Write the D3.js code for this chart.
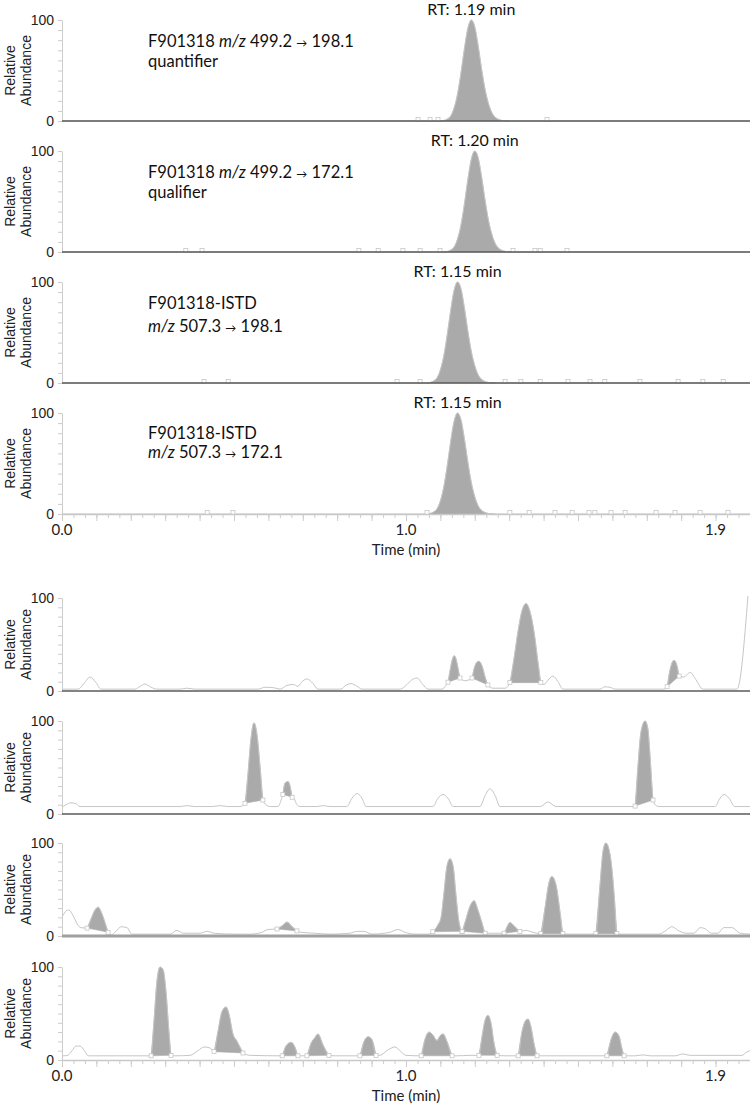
<!DOCTYPE html>
<html>
<head>
<meta charset="utf-8">
<script src="https://cdn.jsdelivr.net/npm/d3@7"></script>
<style>
  body { margin: 0; background: #fff; }
  svg { display: block; }
</style>
</head>
<body>
<svg id="chart" width="750" height="1105"></svg>
<script>
// ---- data (time in min, relative abundance in %) ----
const xDomain = [0, 2.0];
const xTickLabels = [0.0, 1.0, 1.9];
const yTickLabels = [0, 100];
const rtTimes = [1.19, 1.20, 1.15, 1.15];
const rtText = ["RT: 1.19 min", "RT: 1.20 min", "RT: 1.15 min", "RT: 1.15 min"];

// title lines: [text, style] 0 = normal, 1 = italic, 2 = small arrow
const title1 = [[["F901318 ", 0], ["m/z", 1], [" 499.2 ", 0], ["\u2192", 2], [" 198.1", 0]], [["quantifier", 0]]];
const title2 = [[["F901318 ", 0], ["m/z", 1], [" 499.2 ", 0], ["\u2192", 2], [" 172.1", 0]], [["qualifier", 0]]];
const title3 = [[["F901318-ISTD", 0]], [["m/z", 1], [" 507.3 ", 0], ["\u2192", 2], [" 198.1", 0]]];
const title4 = [[["F901318-ISTD", 0]], [["m/z", 1], [" 507.3 ", 0], ["\u2192", 2], [" 172.1", 0]]];

const trace1 = [[0,0],[1.10,0],[1.11,0.5],[1.12,2],[1.13,5],[1.14,13],[1.15,27],[1.16,48],[1.17,72],[1.18,92],[1.19,100],[1.20,93],[1.21,74],[1.22,51],[1.23,31],[1.24,17],[1.25,8],[1.26,3.5],[1.27,1.5],[1.28,0.5],[1.30,0],[2.0,0]];
const trace2 = [[0,0],[1.11,0],[1.12,0.5],[1.13,2],[1.14,5],[1.15,13],[1.16,27],[1.17,48],[1.18,72],[1.19,92],[1.20,100],[1.21,93],[1.22,74],[1.23,51],[1.24,31],[1.25,17],[1.26,8],[1.27,3.5],[1.28,1.5],[1.29,0.5],[1.31,0],[2.0,0]];
const trace3 = [[0,0],[1.06,0],[1.07,0.5],[1.08,2],[1.09,5],[1.10,13],[1.11,27],[1.12,48],[1.13,72],[1.14,92],[1.15,100],[1.16,93],[1.17,74],[1.18,51],[1.19,31],[1.20,17],[1.21,8],[1.22,3.5],[1.23,1.5],[1.24,0.5],[1.26,0],[2.0,0]];
const trace4 = [[0,0],[1.06,0],[1.07,0.5],[1.08,2],[1.09,5],[1.10,13],[1.11,27],[1.12,48],[1.13,72],[1.14,92],[1.15,100],[1.16,93],[1.17,74],[1.18,51],[1.19,31],[1.20,17],[1.21,8],[1.22,3.5],[1.23,1.5],[1.24,0.5],[1.26,0],[2.0,0]];
const fills1 = [[1.10, 1.30]];
const fills2 = [[1.11, 1.31]];
const fills3 = [[1.06, 1.26]];
const fills4 = [[1.06, 1.26]];
const marks1 = [1.035, 1.070, 1.093, 1.410];
const marks2 = [0.360, 0.407, 0.863, 0.919, 0.991, 1.041, 1.099, 1.311, 1.375, 1.390, 1.468];
const marks3 = [0.413, 0.483, 0.974, 1.041, 1.288, 1.334, 1.390, 1.471, 1.535, 1.578, 1.680, 1.791, 1.863, 1.922];
const marks4 = [0.422, 0.497, 1.061, 1.302, 1.358, 1.433, 1.483, 1.532, 1.549, 1.596, 1.637, 1.727, 1.782, 1.855, 1.936];

const trace5 = [[0.003,2],[0.047,2],[0.064,8],[0.081,15],[0.099,9],[0.113,2],[0.212,2],[0.227,5],[0.241,7.5],[0.259,4],[0.276,2],[0.343,2],[0.363,3],[0.387,2],[0.570,2],[0.590,4],[0.616,3.5],[0.634,2],[0.654,6],[0.672,7],[0.686,5],[0.695,9],[0.712,13],[0.730,8],[0.744,2],[0.811,2],[0.826,6.5],[0.840,8],[0.858,5],[0.872,2],[0.983,2],[1.003,7],[1.017,12],[1.032,14],[1.049,7],[1.064,2],[1.105,2],[1.116,6],[1.122,9.5],[1.128,22],[1.134,33],[1.140,38],[1.145,35],[1.151,25],[1.157,14],[1.172,11],[1.183,12],[1.192,14],[1.198,24],[1.206,31],[1.212,32],[1.221,27],[1.230,15],[1.238,6.5],[1.253,3],[1.288,3],[1.302,9],[1.314,35],[1.326,65],[1.337,86],[1.349,94],[1.360,86],[1.372,64],[1.384,30],[1.392,9],[1.401,7],[1.416,13],[1.427,16],[1.442,10],[1.456,2],[1.564,2],[1.578,4.5],[1.593,4],[1.608,2],[1.750,2],[1.759,4.6],[1.767,22],[1.779,33],[1.788,27],[1.794,16],[1.808,15],[1.826,20],[1.843,12],[1.863,2],[1.962,2],[1.994,102]];
const fills5 = [[1.122, 1.157], [1.192, 1.238], [1.302, 1.392], [1.759, 1.794]];

const trace6 = [[0.003,8],[0.012,10],[0.026,12],[0.041,11],[0.052,8],[0.343,8],[0.363,9],[0.387,8],[0.436,8],[0.459,9],[0.483,8],[0.517,8],[0.532,11.5],[0.541,45],[0.549,80],[0.558,98],[0.567,85],[0.576,50],[0.584,15],[0.593,10],[0.605,8],[0.628,8],[0.637,15],[0.642,21],[0.648,33],[0.657,35],[0.663,30],[0.669,18],[0.674,17],[0.683,10],[0.692,8],[0.741,8],[0.759,9],[0.779,8],[0.828,8],[0.843,17],[0.858,22],[0.872,17],[0.884,8],[1.078,8],[1.093,17],[1.108,21],[1.122,17],[1.137,8],[1.215,8],[1.230,20],[1.244,27],[1.259,20],[1.273,8],[1.390,8],[1.413,13],[1.436,8],[1.663,8],[1.666,8.5],[1.674,50],[1.683,88],[1.695,100],[1.703,92],[1.709,65],[1.715,30],[1.718,15],[1.727,9],[1.735,8],[1.898,8],[1.913,17],[1.924,21],[1.939,17],[1.956,8],[2.0,8]];
const fills6 = [[0.532, 0.584], [0.642, 0.669], [1.666, 1.718]];

const trace7 = [[0.003,22],[0.012,27],[0.020,28],[0.032,22],[0.044,13],[0.055,9],[0.073,8.5],[0.084,18],[0.096,28],[0.105,31],[0.116,24],[0.128,11],[0.134,4],[0.142,1],[0.157,5],[0.172,10],[0.189,9],[0.203,2],[0.314,2],[0.334,6],[0.352,3],[0.401,3],[0.422,5],[0.442,3],[0.503,2],[0.547,2],[0.581,4],[0.599,7],[0.625,7.5],[0.640,11],[0.654,15],[0.669,10],[0.683,5.5],[0.695,4],[0.735,3],[0.779,2],[0.837,3],[0.858,5],[0.878,5],[0.901,2],[0.953,4],[0.977,7],[0.997,4],[1.026,2],[1.064,2],[1.078,4.6],[1.093,12],[1.102,20],[1.110,45],[1.119,75],[1.128,83],[1.137,75],[1.145,45],[1.154,15],[1.163,5],[1.172,15],[1.186,32],[1.198,38],[1.209,28],[1.221,14],[1.230,3],[1.244,3],[1.273,3],[1.285,3],[1.294,10],[1.302,14.5],[1.314,11],[1.331,5],[1.349,6],[1.369,4],[1.392,2.5],[1.404,30],[1.416,58],[1.424,64],[1.436,55],[1.448,25],[1.456,2.5],[1.468,2],[1.541,2],[1.552,2.5],[1.564,55],[1.573,92],[1.581,100],[1.593,88],[1.605,45],[1.613,2.5],[1.625,2],[1.735,2],[1.756,6],[1.773,10],[1.791,6],[1.814,3],[1.837,3],[1.855,9],[1.869,8],[1.887,3],[1.907,3],[1.924,9],[1.948,9],[1.971,3],[2.0,2]];
const fills7 = [[0.073, 0.134], [0.625, 0.683], [1.078, 1.163], [1.163, 1.230], [1.285, 1.331], [1.392, 1.456], [1.552, 1.613]];

const trace8 = [[0.003,4.5],[0.017,5],[0.029,10],[0.041,15],[0.052,15],[0.067,9],[0.076,4.5],[0.256,4.5],[0.259,4.5],[0.267,40],[0.276,85],[0.285,100],[0.294,97],[0.302,75],[0.311,30],[0.317,5],[0.328,4.5],[0.372,5],[0.395,10],[0.413,14],[0.430,13],[0.442,9],[0.453,30],[0.465,52],[0.477,57],[0.485,50],[0.497,28],[0.509,20],[0.520,12],[0.526,7.5],[0.547,5],[0.637,4.5],[0.640,4.5],[0.651,15],[0.666,19],[0.677,14],[0.686,4.5],[0.701,4.5],[0.712,4.5],[0.724,18],[0.735,24],[0.744,28],[0.759,16],[0.776,5],[0.794,4.5],[0.863,4.5],[0.866,4.5],[0.878,20],[0.890,25],[0.901,22],[0.913,5],[0.924,5],[0.948,11],[0.968,14],[0.985,9],[1.0,5],[1.041,4.5],[1.044,4.5],[1.055,22],[1.067,30],[1.078,27],[1.090,21],[1.099,26],[1.108,28],[1.119,20],[1.134,4.5],[1.148,4.5],[1.186,5],[1.212,5],[1.221,25],[1.230,43],[1.238,48],[1.247,40],[1.256,18],[1.265,5],[1.288,4.5],[1.326,4.5],[1.337,30],[1.349,43],[1.355,44],[1.363,36],[1.372,18],[1.381,4.5],[1.404,4.5],[1.584,4.5],[1.596,22],[1.608,30],[1.619,26],[1.628,12],[1.634,4.5],[1.666,4.5],[1.689,5.5],[1.709,4.5],[1.782,4.5],[1.805,6.5],[1.826,5],[1.977,5],[1.988,8],[2.0,10]];
const fills8 = [[0.259, 0.317], [0.442, 0.526], [0.640, 0.686], [0.712, 0.776], [0.866, 0.913], [1.044, 1.134], [1.212, 1.265], [1.326, 1.381], [1.584, 1.634]];

// ---- layout ----
const svg = d3.select("#chart");
const x = d3.scaleLinear().domain(xDomain).range([62, 750]);

const panels = [
  {trace: trace1, fills: fills1, marks: marks1, title: title1, titleY: [47, 67], top: 20, bottom: 121, axis: "dark"},
  {trace: trace2, fills: fills2, marks: marks2, title: title2, titleY: [178, 198], top: 151, bottom: 252, axis: "dark"},
  {trace: trace3, fills: fills3, marks: marks3, title: title3, titleY: [309, 332], top: 282, bottom: 383, axis: "dark"},
  {trace: trace4, fills: fills4, marks: marks4, title: title4, titleY: [439, 458], top: 413, bottom: 514, axis: "ticks"},
  {trace: trace5, fills: fills5, top: 598, bottom: 691, axis: "dark"},
  {trace: trace6, fills: fills6, top: 721, bottom: 814, axis: "dark"},
  {trace: trace7, fills: fills7, top: 843, bottom: 936, axis: "thick"},
  {trace: trace8, fills: fills8, top: 967, bottom: 1060, axis: "ticks"}
];

const sans = "'Liberation Sans', Arial, sans-serif";
const cal = "Lato, 'Open Sans', sans-serif";

const pointAt = (trace, t) => trace.find(d => Math.abs(d[0] - t) < 1e-6);

panels.forEach((p, i) => {
  const y = d3.scaleLinear().domain([0, 100]).range([p.bottom, p.top]);
  const g = svg.append("g");
  const line = d3.line().x(d => x(d[0])).y(d => y(d[1])).curve(d3.curveMonotoneX);

  // y axis
  g.append("g")
    .attr("transform", "translate(62,0)")
    .call(d3.axisLeft(y).tickValues(d3.range(0, 101, 10)).tickSize(4).tickSizeOuter(0).tickFormat(""))
    .call(s => {
      s.select(".domain").attr("stroke", "#cccccc");
      s.selectAll(".tick line").attr("stroke", "#cccccc");
    });
  g.selectAll(".ylab").data(yTickLabels).enter().append("text")
    .attr("x", 54).attr("y", d => y(d) + 5)
    .attr("text-anchor", "end")
    .style("font", "14px " + sans).attr("fill", "#222")
    .text(d => d);

  const mid = (p.top + p.bottom) / 2;
  [["Relative", 15], ["Abundance", 31]].forEach(([t, xx]) => {
    g.append("text")
      .attr("transform", `translate(${xx},${mid}) rotate(-90)`)
      .attr("text-anchor", "middle")
      .style("font", "14px " + sans).attr("fill", "#222")
      .text(t);
  });

  // filled peaks
  p.fills.forEach(([s, e]) => {
    const pts = p.trace.filter(d => d[0] >= s - 1e-6 && d[0] <= e + 1e-6);
    g.append("path").attr("d", line(pts) + "Z")
      .attr("fill", "#aaaaaa").attr("stroke", "#aaaaaa").attr("stroke-width", 0.5);
  });

  // trace
  g.append("path").attr("d", line(p.trace))
    .attr("fill", "none").attr("stroke", "#c6c6c6").attr("stroke-width", 1);

  // peak boundary markers
  let marks;
  if (p.marks) marks = p.marks.map(t => [t, 0]);
  else marks = p.fills.flat().map(t => pointAt(p.trace, t)).filter(Boolean);
  g.selectAll(".mk").data(marks).enter().append("rect")
    .attr("x", d => x(d[0]) - 2).attr("y", d => y(d[1]) - (p.marks ? 3.5 : 2))
    .attr("width", 4).attr("height", 4)
    .attr("fill", "#fff").attr("stroke", "#c0c0c0").attr("stroke-width", 0.7);

  // x axis line
  if (p.axis === "ticks") {
    const minor = d3.range(0, 60).map(k => k / 30);
    const major = d3.range(0, 20).map(k => k / 10);
    g.append("g").attr("transform", `translate(0,${p.bottom})`)
      .call(d3.axisBottom(x).tickValues(minor).tickSize(4).tickSizeOuter(0).tickFormat(""))
      .call(s => {
        s.select(".domain").attr("stroke", "#c8c8c8").attr("stroke-width", 1.5);
        s.selectAll(".tick line").attr("stroke", "#cccccc");
      });
    g.append("g").attr("transform", `translate(0,${p.bottom})`)
      .call(d3.axisBottom(x).tickValues(major).tickSize(7).tickSizeOuter(0).tickFormat(""))
      .call(s => {
        s.select(".domain").remove();
        s.selectAll(".tick line").attr("stroke", "#cccccc");
      });
    g.selectAll(".xlab").data(xTickLabels).enter().append("text")
      .attr("x", d => x(d)).attr("y", p.bottom + 21)
      .attr("text-anchor", "middle")
      .style("font", "15px " + cal).attr("fill", "#222")
      .text(d => d3.format(".1f")(d));
    g.append("text")
      .attr("x", x(1.0)).attr("y", p.bottom + 41)
      .attr("text-anchor", "middle")
      .style("font", "15px " + cal).attr("fill", "#222")
      .text("Time (min)");
  } else {
    const col = p.axis === "thick" ? "#a0a0a0" : "#5a5a5a";
    const w = p.axis === "thick" ? 3 : 1.5;
    g.append("line")
      .attr("x1", 62).attr("x2", 750).attr("y1", p.bottom).attr("y2", p.bottom)
      .attr("stroke", col).attr("stroke-width", w);
  }

  // annotations for the upper panels
  if (p.title) {
    p.title.forEach((segs, li) => {
      const t = g.append("text").attr("x", 148).attr("y", p.titleY[li])
        .style("font", "16.5px " + cal).attr("fill", "#111");
      segs.forEach(([txt, st]) => {
        const ts = t.append("tspan").text(txt);
        if (st === 1) ts.style("font-style", "italic");
        if (st === 2) ts.style("font-size", "11px");
      });
    });
    g.append("text")
      .attr("x", x(rtTimes[i])).attr("y", p.top - 5)
      .attr("text-anchor", "middle")
      .style("font", "16px " + cal).attr("fill", "#111")
      .text(rtText[i]);
  }
});
</script>
</body>
</html>
